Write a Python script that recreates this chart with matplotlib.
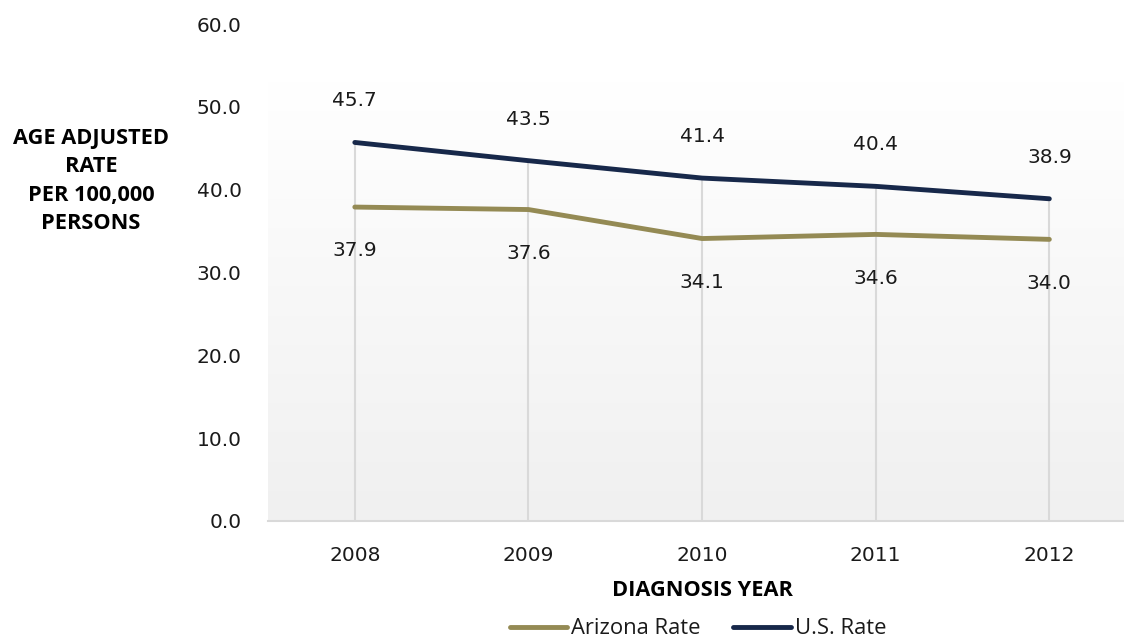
import matplotlib
matplotlib.use("Agg")
import matplotlib.pyplot as plt
import numpy as np

years = ["2008", "2009", "2010", "2011", "2012"]
arizona = [37.9, 37.6, 34.1, 34.6, 34.0]
us = [45.7, 43.5, 41.4, 40.4, 38.9]
yticks = [0, 10, 20, 30, 40, 50, 60]

W, H = 1124, 639
fig = plt.figure(figsize=(W / 100, H / 100), dpi=100)
ax = fig.add_axes([268 / W, (H - 521) / H, (1124 - 268) / W, (521 - 24) / H])

x = np.arange(len(years))
ax.set_xlim(-0.5, 4.43)
ax.set_ylim(0, 60)

# gradient background of the plot area
cmap = matplotlib.colors.LinearSegmentedColormap.from_list("g", ["#f0f0f0", "#ffffff"])
ax.imshow(np.linspace(0, 1, 256).reshape(-1, 1), aspect="auto", cmap=cmap,
          extent=[-0.5, 4.43, 0, 53], origin="lower", zorder=0)

# drop lines from the highest series down to the axis
for xi, top in zip(x, us):
    ax.vlines(xi, 0, top, color="#d9d9d9", lw=1.5, zorder=1)

tfont = dict(family="DejaVu Sans", size=14.5, color="#1a1a1a")
ax.plot(x, arizona, color="#948a54", lw=3.5, zorder=3, label="Arizona Rate", solid_capstyle="round")
ax.plot(x, us, color="#17284a", lw=3.5, zorder=3, label="U.S. Rate", solid_capstyle="round")

for xi, v in zip(x, us):
    ax.annotate(f"{v:.1f}", (xi, v), xytext=(0, 30), textcoords="offset points",
                ha="center", va="center", **tfont)
for xi, v in zip(x, arizona):
    ax.annotate(f"{v:.1f}", (xi, v), xytext=(0, -31.5), textcoords="offset points",
                ha="center", va="center", **tfont)

for s in ["top", "right", "left"]:
    ax.spines[s].set_visible(False)
ax.spines["bottom"].set_color("#d9d9d9")
ax.spines["bottom"].set_linewidth(1.5)
ax.set_xticks(x)
ax.set_xticklabels(years)
ax.set_yticks(yticks)
ax.set_yticklabels([f"{v:.1f}" for v in yticks])
for lab in ax.get_xticklabels() + ax.get_yticklabels():
    lab.set_fontfamily("DejaVu Sans")
    lab.set_fontsize(14.5)
    lab.set_color("#1a1a1a")
ax.tick_params(axis="y", length=0, pad=19)
ax.tick_params(axis="x", length=0, pad=18)

fig.text(702 / W, 1 - 590 / H, "DIAGNOSIS YEAR", ha="center", va="center",
         family="Open Sans", fontweight="bold", fontsize=15.7, color="#000000")
fig.text(91 / W, 1 - 181 / H, "AGE ADJUSTED\nRATE\nPER 100,000\nPERSONS", ha="center", va="center",
         family="Open Sans", fontweight="bold", fontsize=15.7, color="#000000", linespacing=1.45)

leg = fig.legend(loc="center", bbox_to_anchor=(698 / W, 1 - 629 / H), ncol=2, frameon=False,
                 prop=dict(family="Open Sans", size=15.8), handlelength=2.6, handletextpad=0.2,
                 columnspacing=1.5)
for t in leg.get_texts():
    t.set_color("#1a1a1a")

fig.savefig("out.png", dpi=100)
